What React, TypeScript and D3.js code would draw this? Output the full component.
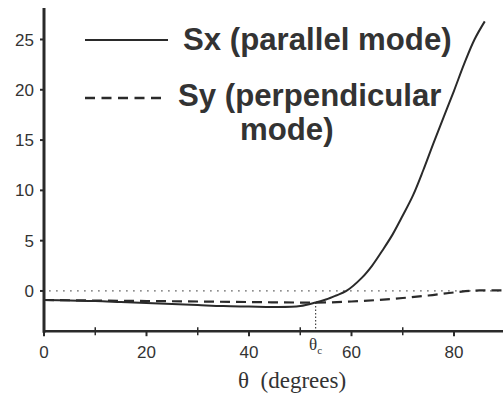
import React, { useEffect } from "react";
import * as d3 from "d3";

const sxTheta = [0, 5, 10, 15, 20, 25, 30, 35, 40, 45, 50, 53, 55, 57, 59, 62, 64, 66, 68, 70, 72, 74, 76, 78, 80, 82, 84, 86];
const sxValues = [-0.9, -0.95, -1.0, -1.1, -1.2, -1.3, -1.4, -1.5, -1.55, -1.6, -1.5, -1.15, -0.85, -0.45, 0.0, 1.3, 2.5, 4.0, 5.6, 7.5, 9.5, 12.0, 14.7, 17.3, 19.9, 22.6, 25.0, 26.8];
const syTheta = [0, 10, 20, 30, 40, 50, 53, 60, 65, 70, 75, 80, 85, 90];
const syValues = [-0.9, -0.95, -1.0, -1.05, -1.1, -1.15, -1.15, -1.05, -0.9, -0.7, -0.45, -0.15, 0.05, 0.05];
const xMajorTicks = [0, 20, 40, 60, 80];
const xMinorTicks = [10, 30, 50, 70];
const yTicks = [0, 5, 10, 15, 20, 25];
const thetaC = 53;
const legendLabels = ["Sx (parallel mode)", "Sy (perpendicular", "mode)"];

const W = 503;
const H = 396;
const ink = "#2a2a2a";

export default function App() {
  useEffect(() => {
    document.body.style.margin = "0";
  }, []);

  const x = d3.scaleLinear().domain([0, 90]).range([44, 505.25]);
  const y = d3.scaleLinear().domain([-4, 28]).range([331.2, 9.3]);

  const sxLine = d3
    .line<number>()
    .x((_, i) => x(sxTheta[i]))
    .y((d) => y(d))
    .curve(d3.curveCatmullRom.alpha(0.5));
  const syLine = d3
    .line<number>()
    .x((_, i) => x(syTheta[i]))
    .y((d) => y(d))
    .curve(d3.curveMonotoneX);

  const sxAtC = sxValues[sxTheta.indexOf(thetaC)];

  return (
    <svg width={W} height={H} style={{ display: "block", background: "#fff" }}>
      {/* zero dotted line */}
      <line x1={x(1)} x2={W} y1={y(0)} y2={y(0)} stroke="#555" strokeWidth={1.2} strokeDasharray="1.5,5.5" />
      {/* theta_c dotted */}
      <line x1={x(thetaC)} x2={x(thetaC)} y1={y(sxAtC)} y2={y(-4)} stroke="#444" strokeWidth={1.2} strokeDasharray="1.5,2" />

      {/* curves */}
      <path d={syLine(syValues) || ""} fill="none" stroke={ink} strokeWidth={2.2} strokeDasharray="10,6" />
      <path d={sxLine(sxValues) || ""} fill="none" stroke={ink} strokeWidth={2} />

      {/* axes */}
      <line x1={x(0)} x2={x(0)} y1={8} y2={y(-4) + 1.5} stroke={ink} strokeWidth={3} />
      <line x1={x(0)} x2={W} y1={y(-4)} y2={y(-4)} stroke={ink} strokeWidth={2.5} />

      {yTicks.map((t) => (
        <g key={"y" + t}>
          <line x1={x(0) - 4} x2={x(0)} y1={y(t)} y2={y(t)} stroke={ink} strokeWidth={2} />
          <text x={34} y={y(t)} dy="0.36em" textAnchor="end" fontFamily="Liberation Sans, Arial, sans-serif" fontSize={17} fill="#333">
            {t}
          </text>
        </g>
      ))}
      {xMajorTicks.map((t) => (
        <g key={"x" + t}>
          <line x1={x(t)} x2={x(t)} y1={y(-4)} y2={y(-4) + 5} stroke={ink} strokeWidth={2} />
          <text x={x(t)} y={358} textAnchor="middle" fontFamily="Liberation Sans, Arial, sans-serif" fontSize={17} fill="#333">
            {t}
          </text>
        </g>
      ))}
      {xMinorTicks.map((t) => (
        <line key={"m" + t} x1={x(t)} x2={x(t)} y1={y(-4) - 4} y2={y(-4) + 4} stroke={ink} strokeWidth={1.5} />
      ))}

      {/* theta_c label */}
      <text x={x(thetaC)} y={350} textAnchor="middle" fontFamily="Liberation Serif, Times New Roman, serif" fontSize={17} fill="#333">
        θ<tspan fontSize={11} dy={4}>c</tspan>
      </text>

      {/* x axis title */}
      <text x={238} y={388} fontFamily="Liberation Serif, Times New Roman, serif" fontSize={23} fill="#333" xmlSpace="preserve">
        θ  (degrees)
      </text>

      {/* legend */}
      <line x1={85} x2={168} y1={40} y2={40} stroke={ink} strokeWidth={2.2} />
      <line x1={85} x2={162} y1={98} y2={98} stroke={ink} strokeWidth={2.5} strokeDasharray="10,6.5" />
      <text x={183} y={50} fontFamily="Liberation Sans, Arial, sans-serif" fontWeight="bold" fontSize={31.2} fill="#333">
        {legendLabels[0]}
      </text>
      <text x={178} y={106} fontFamily="Liberation Sans, Arial, sans-serif" fontWeight="bold" fontSize={31.2} fill="#333">
        {legendLabels[1]}
      </text>
      <text x={240} y={140} fontFamily="Liberation Sans, Arial, sans-serif" fontWeight="bold" fontSize={31.2} fill="#333">
        {legendLabels[2]}
      </text>
    </svg>
  );
}
